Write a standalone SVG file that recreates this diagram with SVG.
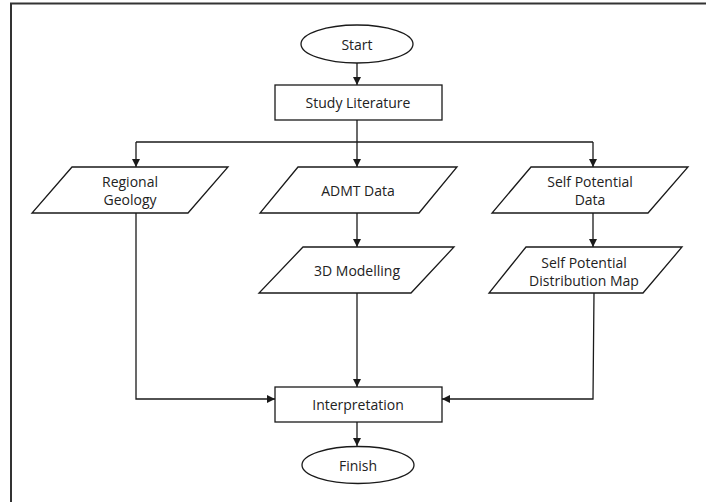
<svg xmlns="http://www.w3.org/2000/svg" width="706" height="502" viewBox="0 0 706 502">
<style>
.s{fill:#fff;stroke:#1a1a1a;stroke-width:1.3}
.t{font-family:"Open Sans","Noto Sans",sans-serif;font-size:14px;fill:#222;text-anchor:middle;dominant-baseline:central}
.c{fill:none;stroke:#1a1a1a;stroke-width:1.3}
</style>
<defs>
<marker id="a" viewBox="0 0 10 10" refX="10" refY="5" markerWidth="8" markerHeight="8" markerUnits="userSpaceOnUse" orient="auto">
<path d="M0,0 L10,5 L0,10 z" fill="#1a1a1a"/>
</marker>
</defs>
<rect x="0" y="0" width="706" height="502" fill="#fff"/>
<path d="M11,502 L11,3.5 L706,3.5" fill="none" stroke="#333" stroke-width="2"/>
<g id="connectors">
<line class="c" x1="357" y1="63" x2="357" y2="85" marker-end="url(#a)"/>
<line class="c" x1="357" y1="120" x2="357" y2="142"/>
<line class="c" x1="136" y1="142" x2="593" y2="142"/>
<line class="c" x1="136" y1="142" x2="136" y2="167" marker-end="url(#a)"/>
<line class="c" x1="357" y1="142" x2="357" y2="167" marker-end="url(#a)"/>
<line class="c" x1="593" y1="142" x2="593" y2="167" marker-end="url(#a)"/>
<line class="c" x1="357" y1="213" x2="357" y2="247" marker-end="url(#a)"/>
<line class="c" x1="593" y1="213" x2="593" y2="247" marker-end="url(#a)"/>
<polyline class="c" points="136,213 136,399 275,399" marker-end="url(#a)"/>
<line class="c" x1="357" y1="293" x2="357" y2="387" marker-end="url(#a)"/>
<polyline class="c" points="594,293 593,399 442,399" marker-end="url(#a)"/>
<line class="c" x1="357" y1="422" x2="357" y2="446" marker-end="url(#a)"/>
</g>
<g id="start"><ellipse class="s" cx="357" cy="44" rx="56" ry="19"/><text class="t" x="357" y="44">Start</text></g>
<g id="study"><rect class="s" x="275" y="85" width="167" height="35"/><text class="t" x="358" y="102.5">Study Literature</text></g>
<g id="regional"><polygon class="s" points="72,167 228,167 188,213 32,213"/><text class="t" x="130" y="181">Regional</text><text class="t" x="130" y="199">Geology</text></g>
<g id="admt"><polygon class="s" points="298,167 457,167 419,213 260,213"/><text class="t" x="358" y="190">ADMT Data</text></g>
<g id="spdata"><polygon class="s" points="531,167 688,167 648,213 492,213"/><text class="t" x="590" y="181">Self Potential</text><text class="t" x="590" y="199">Data</text></g>
<g id="model"><polygon class="s" points="303,247 454,247 411,293 259,293"/><text class="t" x="357" y="270">3D Modelling</text></g>
<g id="spmap"><polygon class="s" points="526,247 682,247 643,293 489,293"/><text class="t" x="584" y="262">Self Potential</text><text class="t" x="584" y="280">Distribution Map</text></g>
<g id="interp"><rect class="s" x="275" y="387" width="167" height="35"/><text class="t" x="358" y="404.5">Interpretation</text></g>
<g id="finish"><ellipse class="s" cx="358" cy="465" rx="56" ry="18.5"/><text class="t" x="358" y="465">Finish</text></g>
</svg>
